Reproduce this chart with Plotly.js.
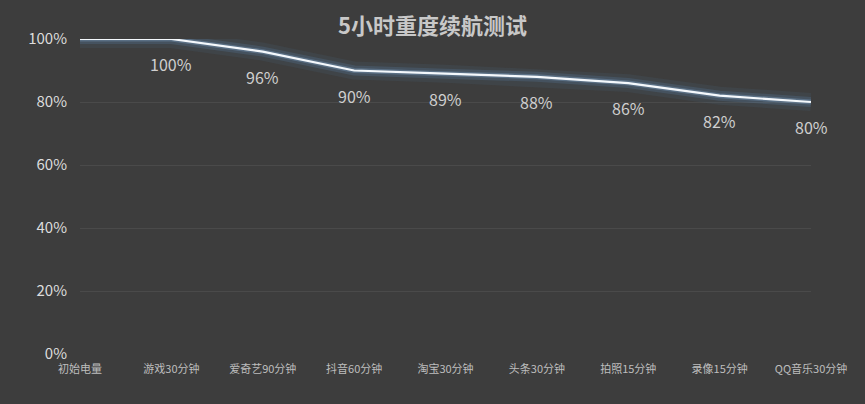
<!DOCTYPE html>
<html><head><meta charset="utf-8">
<script src="https://cdn.plot.ly/plotly-3.0.1.min.js"></script>
<style>html,body{margin:0;padding:0;background:#3d3d3d;}#chart{width:865px;height:404px;}</style>
</head><body><div id="chart"></div>
<script>
const categories = ['初始电量','游戏30分钟','爱奇艺90分钟','抖音60分钟','淘宝30分钟','头条30分钟','拍照15分钟','录像15分钟','QQ音乐30分钟'];
const battery = [100, 100, 96, 90, 89, 88, 86, 82, 80];
const labels = ['', '100%', '96%', '90%', '89%', '88%', '86%', '82%', '80%'];
const yTicks = [0, 20, 40, 60, 80, 100];
const yTickText = ['0%', '20%', '40%', '60%', '80%', '100%'];

const font = "'Noto Sans CJK SC', 'Noto Sans', sans-serif";
const traces = [
  {x: categories, y: battery, mode: 'lines', line: {color: 'rgba(90,140,190,0.09)', width: 18}, hoverinfo: 'skip'},
  {x: categories, y: battery, mode: 'lines', line: {color: 'rgba(100,150,200,0.18)', width: 10}, hoverinfo: 'skip'},
  {x: categories, y: battery, mode: 'lines', line: {color: 'rgba(140,180,220,0.3)', width: 5}, hoverinfo: 'skip'},
  {x: categories, y: battery, mode: 'lines', line: {color: '#f4f8fc', width: 2.2}}
];
const annotations = categories.map((c, i) => ({
  x: c, y: battery[i], xref: 'x', yref: 'y', text: labels[i], showarrow: false,
  yshift: -25, font: {family: font, size: 16, color: '#cfcfcf'}
})).filter(a => a.text);

const layout = {
  width: 865, height: 404,
  paper_bgcolor: '#3d3d3d', plot_bgcolor: '#3d3d3d',
  margin: {l: 80, r: 54, t: 39, b: 50},
  showlegend: false,
  title: {text: '<b>5小时重度续航测试</b>', x: 0.5, xanchor: 'center', y: 0.935, yanchor: 'middle',
          font: {family: font, size: 22, color: '#c8c8c8'}},
  xaxis: {type: 'category', range: [0, 8], showgrid: false, zeroline: false, showline: false,
          ticks: '', tickfont: {family: font, size: 11, color: '#bdbdbd'}, ticklabelstandoff: 7},
  yaxis: {range: [0, 100], tickvals: yTicks, ticktext: yTickText, showgrid: true,
          gridcolor: '#4a4a4a', gridwidth: 1, zeroline: false, showline: false, ticks: '',
          tickfont: {family: font, size: 15, color: '#dcdcdc'}, ticklabelstandoff: 12},
  annotations: annotations
};
Plotly.newPlot('chart', traces, layout, {displayModeBar: false, staticPlot: true});
</script></body></html>
